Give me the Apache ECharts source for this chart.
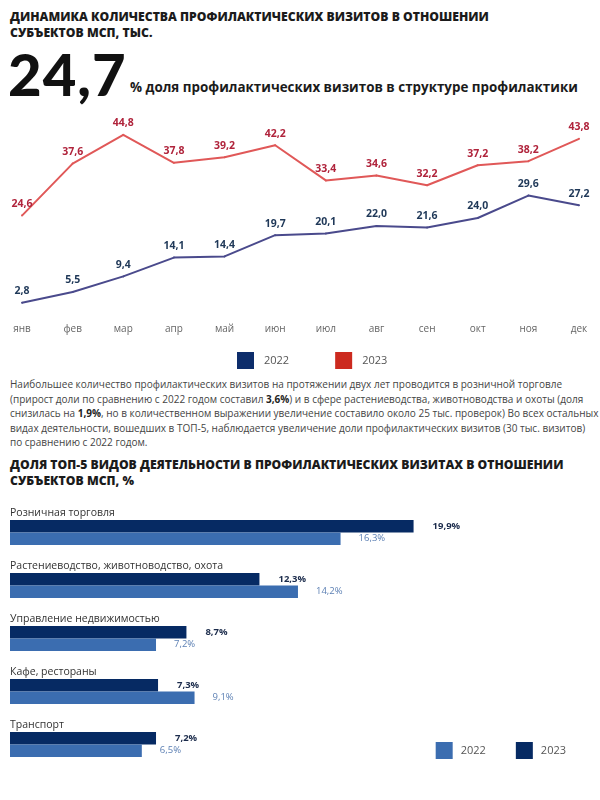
<!DOCTYPE html>
<html>
<head>
<meta charset="utf-8">
<script src="https://cdn.jsdelivr.net/npm/echarts@6/dist/echarts.min.js"></script>
<style>
  html, body { margin:0; padding:0; background:#fff; width:600px; height:800px; overflow:hidden; }
  .t { position:absolute; white-space:nowrap; font-family:"Open Sans", "Noto Sans", sans-serif; }
  .h { font-weight:800; font-size:12.2px; color:#1b1b1b; line-height:16px; left:10px; }
  #big { left:8px; top:42px; font-family:"Lato","Roboto",sans-serif; font-weight:900; font-size:58px; color:#111; line-height:64px; letter-spacing:1px; }
  #sub { left:130px; top:78px; font-weight:700; font-size:13.4px; color:#1b1b1b; }
  #para { left:10px; top:377px; font-size:10px; color:#444; line-height:14.5px; }
  #para b { color:#222; }
  #c1 { position:absolute; left:0; top:100px; width:600px; height:275px; }
  #c2 { position:absolute; left:0; top:495px; width:600px; height:305px; }
</style>
</head>
<body>
<div class="t h" style="top:9px;">ДИНАМИКА КОЛИЧЕСТВА ПРОФИЛАКТИЧЕСКИХ ВИЗИТОВ В ОТНОШЕНИИ<br>СУБЪЕКТОВ МСП, ТЫС.</div>
<div class="t" id="big">24,7</div>
<div class="t" id="sub">% доля профилактических визитов в структуре профилактики</div>
<div class="t" id="para">Наибольшее количество профилактических визитов на протяжении двух лет проводится в розничной торговле<br>(прирост доли по сравнению с 2022 годом составил <b>3,6%</b>) и в сфере растениеводства, животноводства и охоты (доля<br>снизилась на <b>1,9%</b>, но в количественном выражении увеличение составило около 25 тыс. проверок) Во всех остальных<br>видах деятельности, вошедших в ТОП-5, наблюдается увеличение доли профилактических визитов (30 тыс. визитов)<br>по сравнению с 2022 годом.</div>
<div class="t h" style="top:457px;">ДОЛЯ ТОП-5 ВИДОВ ДЕЯТЕЛЬНОСТИ В ПРОФИЛАКТИЧЕСКИХ ВИЗИТАХ В ОТНОШЕНИИ<br>СУБЪЕКТОВ МСП, %</div>
<div id="c1"></div>
<div id="c2"></div>
<script>
const months = ['янв','фев','мар','апр','май','июн','июл','авг','сен','окт','ноя','дек'];
const visits2022 = [2.8, 5.5, 9.4, 14.1, 14.4, 19.7, 20.1, 22.0, 21.6, 24.0, 29.6, 27.2];
const visits2023 = [24.6, 37.6, 44.8, 37.8, 39.2, 42.2, 33.4, 34.6, 32.2, 37.2, 38.2, 43.8];

const activities = ['Розничная торговля','Растениеводство, животноводство, охота','Управление недвижимостью','Кафе, рестораны','Транспорт'];
const share2023 = [19.9, 12.3, 8.7, 7.3, 7.2];
const share2022 = [16.3, 14.2, 7.2, 9.1, 6.5];

const fmt1 = v => Number(v).toFixed(1).replace('.', ',');
const FONT = '"Open Sans", "Noto Sans", sans-serif';

const c1 = echarts.init(document.getElementById('c1'), null, {renderer:'canvas'});
c1.setOption({
  animation:false,
  textStyle:{fontFamily:FONT},
  grid:{left:22, right:21, top:14, height:200},
  legend:{
    left:232, top:247, itemWidth:17, itemHeight:17, itemGap:46, icon:'rect',
    textStyle:{fontSize:11, color:'#555', padding:[0,0,0,5], fontFamily:FONT},
    data:[{name:'2022', itemStyle:{color:'#0d2d6b'}}, {name:'2023', itemStyle:{color:'#cc2a1f'}}]
  },
  xAxis:{type:'category', data:months, boundaryGap:false,
    axisLine:{show:false}, axisTick:{show:false}, splitLine:{show:false},
    axisLabel:{fontSize:10, color:'#666', margin:10, interval:0}},
  yAxis:{type:'value', min:0, max:50, show:false, splitLine:{show:false}},
  series:[
    {name:'2022', type:'line', data:visits2022, symbol:'circle', symbolSize:2, showSymbol:true,
     itemStyle:{color:'#4a4a8c'},
     lineStyle:{color:'#4a4a8c', width:2},
     label:{show:true, position:'top', distance:5, fontSize:10.5, fontWeight:'bold', color:'#1f3858', formatter:p=>fmt1(p.value)}},
    {name:'2023', type:'line', data:visits2023, symbol:'circle', symbolSize:2, showSymbol:true,
     itemStyle:{color:'#e05858'},
     lineStyle:{color:'#e05858', width:2},
     label:{show:true, position:'top', distance:5, fontSize:10.5, fontWeight:'bold', color:'#b0243c', formatter:p=>fmt1(p.value)}}
  ]
});

const c2 = echarts.init(document.getElementById('c2'), null, {renderer:'canvas'});
c2.setOption({
  animation:false,
  textStyle:{fontFamily:FONT},
  grid:{left:10, right:83, top:11, height:265},
  legend:{
    right:29, top:242, itemWidth:17, itemHeight:17, itemGap:30, icon:'rect',
    textStyle:{fontSize:11, color:'#555', padding:[0,0,0,3], fontFamily:FONT},
    data:['2022','2023']
  },
  xAxis:{type:'value', min:0, max:25, show:false, splitLine:{show:false}},
  yAxis:{type:'category', data:activities, inverse:true,
    axisLine:{show:false}, axisTick:{show:false},
    axisLabel:{inside:true, align:'left', verticalAlign:'bottom', margin:0, padding:[0,0,14,0], fontSize:10.5, color:'#333'}},
  series:[
    {name:'2023', type:'bar', data:share2023, barWidth:12.5, barGap:'0%', itemStyle:{color:'#062a63'},
     label:{show:true, position:'right', distance:19, fontSize:9.5, fontWeight:'bold', color:'#1b2b4b', formatter:p=>fmt1(p.value)+'%'}},
    {name:'2022', type:'bar', data:share2022, barWidth:12.5, barGap:'0%', itemStyle:{color:'#3b6db0'},
     label:{show:true, position:'right', distance:18, fontSize:9.5, color:'#5d80b4', formatter:p=>fmt1(p.value)+'%'}}
  ]
});
</script>
</body>
</html>
